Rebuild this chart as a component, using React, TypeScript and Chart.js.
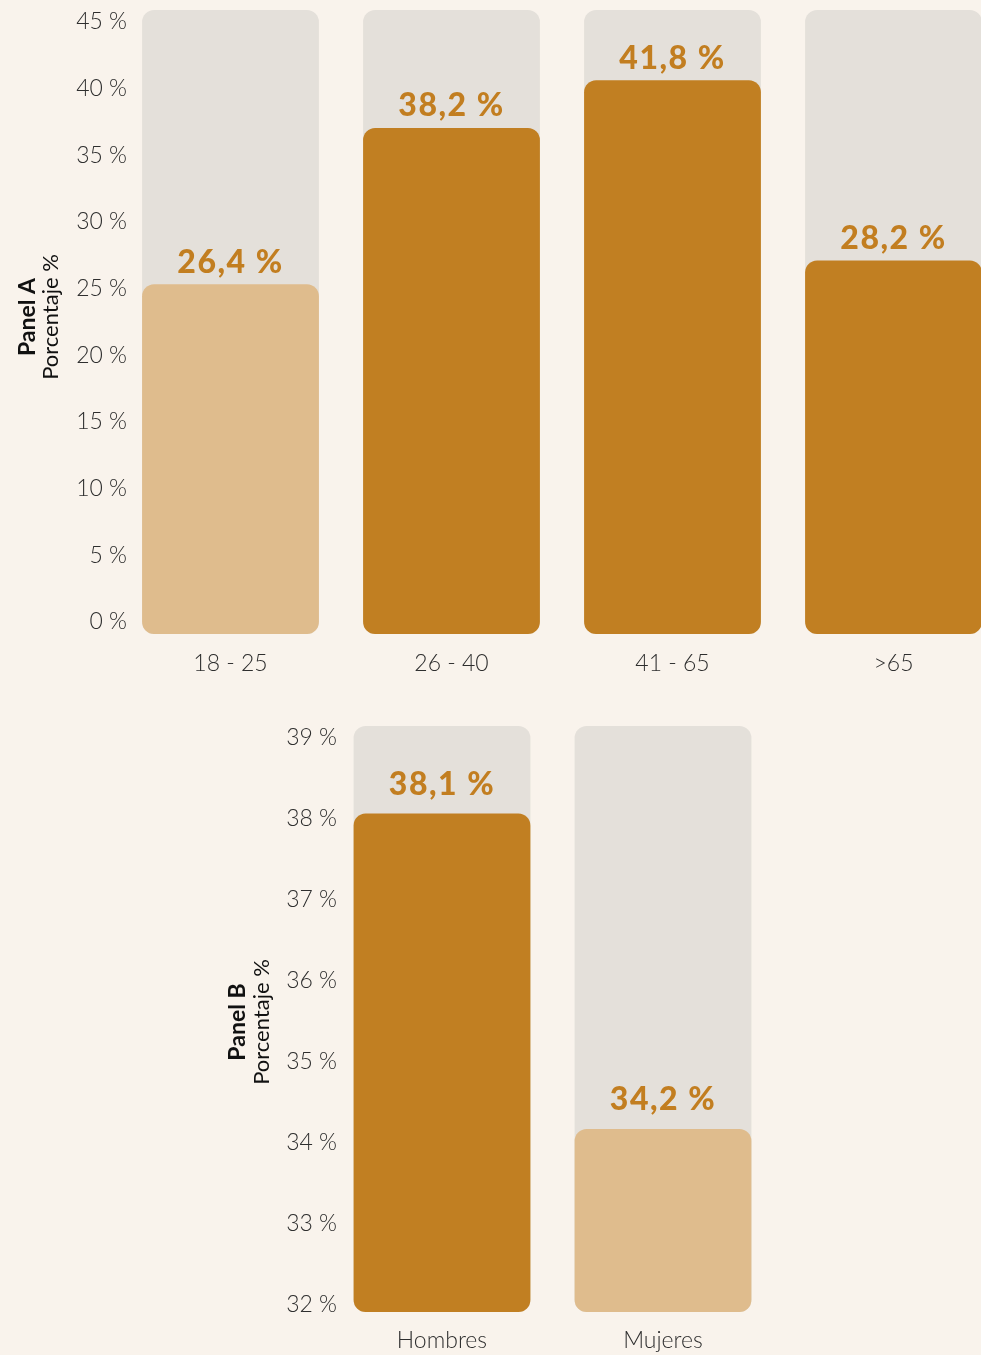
import React, { useEffect, useRef } from "react";
import { Chart, registerables } from "chart.js";

Chart.register(...registerables);

// ---------- data ----------
const categoriesA = ["18 - 25", "26 - 40", "41 - 65", ">65"];
const valuesA = [26.4, 38.2, 41.8, 28.2];
const darkA = [false, true, true, true];
const tickValuesA = [0, 5, 10, 15, 20, 25, 30, 35, 40, 45];

const categoriesB = ["Hombres", "Mujeres"];
const valuesB = [38.1, 34.2];
const darkB = [true, false];
const tickValuesB = [32, 33, 34, 35, 36, 37, 38, 39];

// ---------- axis ranges ----------
const A_BAR_MIN = 0;
const A_BAR_MAX = 47.1;
const A_LABEL_MIN = -0.9;
const A_LABEL_MAX = 45.88;
const B_MIN = 31.94;
const B_MAX = 39.18;

// ---------- styles ----------
const BG = "#F9F3EC";
const DARK = "#C17F22";
const LIGHT = "#DFBC8D";
const TRACK = "#E4E0DA";
const VALUE_TEXT = "#C27E20";
const TICK_TEXT = "#2E2E2E";
const FONT = "Lato, 'Noto Sans', sans-serif";

const fmtValue = (v: number) => v.toFixed(1).replace(".", ",") + " %";

const valueLabels = {
  id: "valueLabels",
  afterDatasetsDraw(chart: any, _args: any, opts: any) {
    const meta = chart.getDatasetMeta(0);
    const ctx = chart.ctx;
    ctx.save();
    ctx.font = `900 ${opts.size}px ${FONT}`;
    if ("letterSpacing" in ctx) (ctx as any).letterSpacing = "1.5px";
    ctx.fillStyle = VALUE_TEXT;
    ctx.textAlign = "center";
    ctx.textBaseline = "middle";
    meta.data.forEach((el: any, i: number) => {
      const v = chart.data.datasets[0].data[i] as number;
      ctx.fillText(fmtValue(v), el.x, el.y - opts.offset);
    });
    ctx.restore();
  },
};

const axisTitle = {
  id: "axisTitle",
  afterDraw(chart: any, _args: any, opts: any) {
    const ctx = chart.ctx;
    const cy = (chart.chartArea.top + chart.chartArea.bottom) / 2 + opts.dy;
    ctx.save();
    ctx.fillStyle = "#111";
    ctx.textAlign = "center";
    ctx.textBaseline = "alphabetic";
    ctx.translate(opts.x1, cy);
    ctx.rotate(-Math.PI / 2);
    ctx.font = `bold 23px ${FONT}`;
    ctx.fillText(opts.title, 0, 0);
    ctx.restore();
    ctx.save();
    ctx.fillStyle = "#111";
    ctx.textAlign = "center";
    ctx.textBaseline = "alphabetic";
    ctx.translate(opts.x2, cy);
    ctx.rotate(-Math.PI / 2);
    ctx.font = `400 22px ${FONT}`;
    ctx.fillText(opts.subtitle, 0, 0);
    ctx.restore();
  },
};

function fitY(scale: any, width: number) {
  scale.width = width;
  scale.paddingTop = 0;
  scale.paddingBottom = 0;
  // let the tick labels reach a little into the chart area (no clipping)
  scale._computeLabelArea = () => undefined;
}
function fitX(scale: any, height: number) {
  scale.height = height;
  scale.paddingLeft = 0;
  scale.paddingRight = 0;
}

const barDefaults = {
  grouped: false,
  categoryPercentage: 1,
  barPercentage: 0.8,
  borderRadius: 12,
  borderSkipped: false,
  borderWidth: 0,
};

function buildA(canvas: HTMLCanvasElement) {
  const track = categoriesA.map(() => A_BAR_MAX);
  return new Chart(canvas, {
    type: "bar",
    data: {
      labels: categoriesA,
      datasets: [
        {
          data: valuesA,
          backgroundColor: darkA.map((d) => (d ? DARK : LIGHT)),
          yAxisID: "y",
          base: A_BAR_MIN,
          order: 0,
        },
        {
          data: track,
          backgroundColor: TRACK,
          yAxisID: "y",
          base: A_BAR_MIN,
          order: 1,
        },
      ],
    },
    options: {
      responsive: false,
      animation: false,
      events: [],
      layout: { padding: { left: 0, right: 6, top: 10, bottom: 6 } },
      datasets: { bar: barDefaults },
      scales: {
        x: {
          grid: { display: false, drawTicks: false },
          border: { display: false },
          ticks: { color: TICK_TEXT, font: { family: FONT, size: 23, weight: "300" }, padding: 16 },
          afterFit: (s: any) => fitX(s, 60),
        },
        y: {
          display: false,
          min: A_BAR_MIN,
          max: A_BAR_MAX,
        },
        y2: {
          position: "left",
          min: A_LABEL_MIN,
          max: A_LABEL_MAX,
          grid: { display: false, drawTicks: false },
          border: { display: false },
          afterBuildTicks: (s: any) => {
            s.ticks = tickValuesA.map((v) => ({ value: v }));
          },
          ticks: {
            color: TICK_TEXT,
            font: { family: FONT, size: 23, weight: "300" },
            padding: -7,
            callback: (v: any) => `${v} %`,
          },
          afterFit: (s: any) => fitY(s, 120),
        },
      },
      plugins: {
        legend: { display: false },
        tooltip: { enabled: false },
        valueLabels: { size: 32, offset: 22 },
        axisTitle: { title: "Panel A", subtitle: "Porcentaje %", x1: 35, x2: 58, dy: -5 },
      } as any,
    },
    plugins: [valueLabels, axisTitle],
  } as any);
}

function buildB(canvas: HTMLCanvasElement) {
  const track = categoriesB.map(() => B_MAX);
  return new Chart(canvas, {
    type: "bar",
    data: {
      labels: categoriesB,
      datasets: [
        {
          data: valuesB,
          backgroundColor: darkB.map((d) => (d ? DARK : LIGHT)),
          base: B_MIN,
          order: 0,
        },
        {
          data: track,
          backgroundColor: TRACK,
          base: B_MIN,
          order: 1,
        },
      ],
    },
    options: {
      responsive: false,
      animation: false,
      events: [],
      layout: { padding: { left: 0, right: 207.5, top: 26, bottom: 0 } },
      datasets: { bar: barDefaults },
      scales: {
        x: {
          grid: { display: false, drawTicks: false },
          border: { display: false },
          ticks: { color: TICK_TEXT, font: { family: FONT, size: 23, weight: "300" }, padding: 15 },
          afterFit: (s: any) => fitX(s, 43),
        },
        y: {
          min: B_MIN,
          max: B_MAX,
          grid: { display: false, drawTicks: false },
          border: { display: false },
          afterBuildTicks: (s: any) => {
            s.ticks = tickValuesB.map((v) => ({ value: v }));
          },
          ticks: {
            color: TICK_TEXT,
            font: { family: FONT, size: 23, weight: "300" },
            padding: -5.5,
            labelOffset: -3,
            callback: (v: any) => `${v} %`,
          },
          afterFit: (s: any) => fitY(s, 331.5),
        },
      },
      plugins: {
        legend: { display: false },
        tooltip: { enabled: false },
        valueLabels: { size: 32, offset: 29 },
        axisTitle: { title: "Panel B", subtitle: "Porcentaje %", x1: 245, x2: 269, dy: 3 },
      } as any,
    },
    plugins: [valueLabels, axisTitle],
  } as any);
}

function ChartCanvas({ build, width, height, top }: { build: (c: HTMLCanvasElement) => Chart; width: number; height: number; top: number }) {
  const ref = useRef<HTMLCanvasElement | null>(null);
  useEffect(() => {
    if (!ref.current) return;
    const chart = build(ref.current);
    return () => chart.destroy();
  }, [build]);
  return (
    <canvas
      ref={ref}
      width={width}
      height={height}
      style={{ position: "absolute", left: 0, top, width, height, display: "block" }}
    />
  );
}

export default function App() {
  return (
    <div
      style={{
        position: "absolute",
        left: 0,
        top: 0,
        width: 981,
        height: 1355,
        overflow: "hidden",
        background: BG,
      }}
    >
      <ChartCanvas build={buildA} width={1010} height={700} top={0} />
      <ChartCanvas build={buildB} width={981} height={655} top={700} />
    </div>
  );
}
